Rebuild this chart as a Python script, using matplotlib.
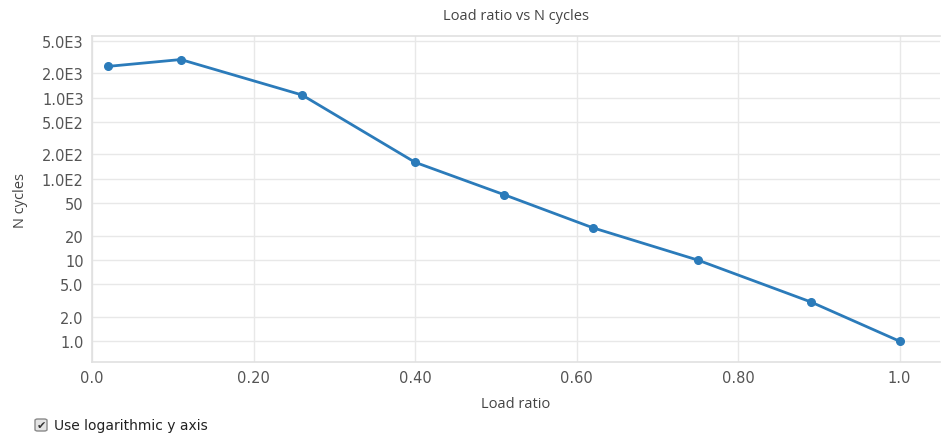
import matplotlib.pyplot as plt
from matplotlib.patches import FancyBboxPatch

# data
load_ratio = [0.02, 0.11, 0.26, 0.40, 0.51, 0.62, 0.75, 0.89, 1.0]
n_cycles = [2430, 2950, 1080, 160, 64, 25, 10, 3.05, 1.0]

y_ticks = [1, 2, 5, 10, 20, 50, 100, 200, 500, 1000, 2000, 5000]
y_labels = ['1.0', '2.0', '5.0', '10', '20', '50', '1.0E2', '2.0E2', '5.0E2',
            '1.0E3', '2.0E3', '5.0E3']
x_ticks = [0.0, 0.2, 0.4, 0.6, 0.8, 1.0]
x_labels = ['0.0', '0.20', '0.40', '0.60', '0.80', '1.0']

fig = plt.figure(figsize=(9.42, 4.35), dpi=100)
ax = fig.add_axes([92 / 942, 72 / 435, 848 / 942, 326 / 435])

ax.plot(load_ratio, n_cycles, color='#2b7bba', linewidth=2, marker='o',
        markersize=5.5, zorder=3)

ax.set_yscale('log')
ax.set_xlim(0, 1.05)
ax.set_ylim(0.555, 5750)
ax.set_yticks(y_ticks)
ax.set_yticklabels(y_labels)
ax.minorticks_off()
ax.set_xticks(x_ticks)
ax.set_xticklabels(x_labels)

ax.grid(True, color='#e8e8e8', linewidth=1)
ax.set_axisbelow(True)
ax.spines['right'].set_visible(False)
for side in ['left', 'bottom', 'top']:
    ax.spines[side].set_color('#e0e0e0')
    ax.spines[side].set_linewidth(1.2)
ax.tick_params(length=0, labelsize=10.5, labelcolor='#555555', pad=6)

ax.set_title('Load ratio vs N cycles', fontsize=10.5, color='#444444',
             family='Open Sans', pad=12)
ax.set_xlabel('Load ratio', fontsize=10.5, color='#444444', family='Open Sans',
              labelpad=8)
ax.set_ylabel('N cycles', fontsize=10.5, color='#444444', family='Open Sans',
              labelpad=10)

# checkbox under the chart
box = FancyBboxPatch((35 / 942, 1 - 432 / 435), 12 / 942, 12 / 435,
                     boxstyle='round,pad=0,rounding_size=0.003',
                     transform=fig.transFigure, facecolor='#e4e4e4',
                     edgecolor='#8a8a8a', linewidth=1)
fig.patches.append(box)
fig.text(41 / 942, 1 - 426 / 435, '\u2714', ha='center', va='center',
         fontsize=8, color='#333333')
fig.text(54 / 942, 1 - 426 / 435, 'Use logarithmic y axis', ha='left',
         va='center', fontsize=10, color='#222222')

fig.savefig('out.png', dpi=100)
